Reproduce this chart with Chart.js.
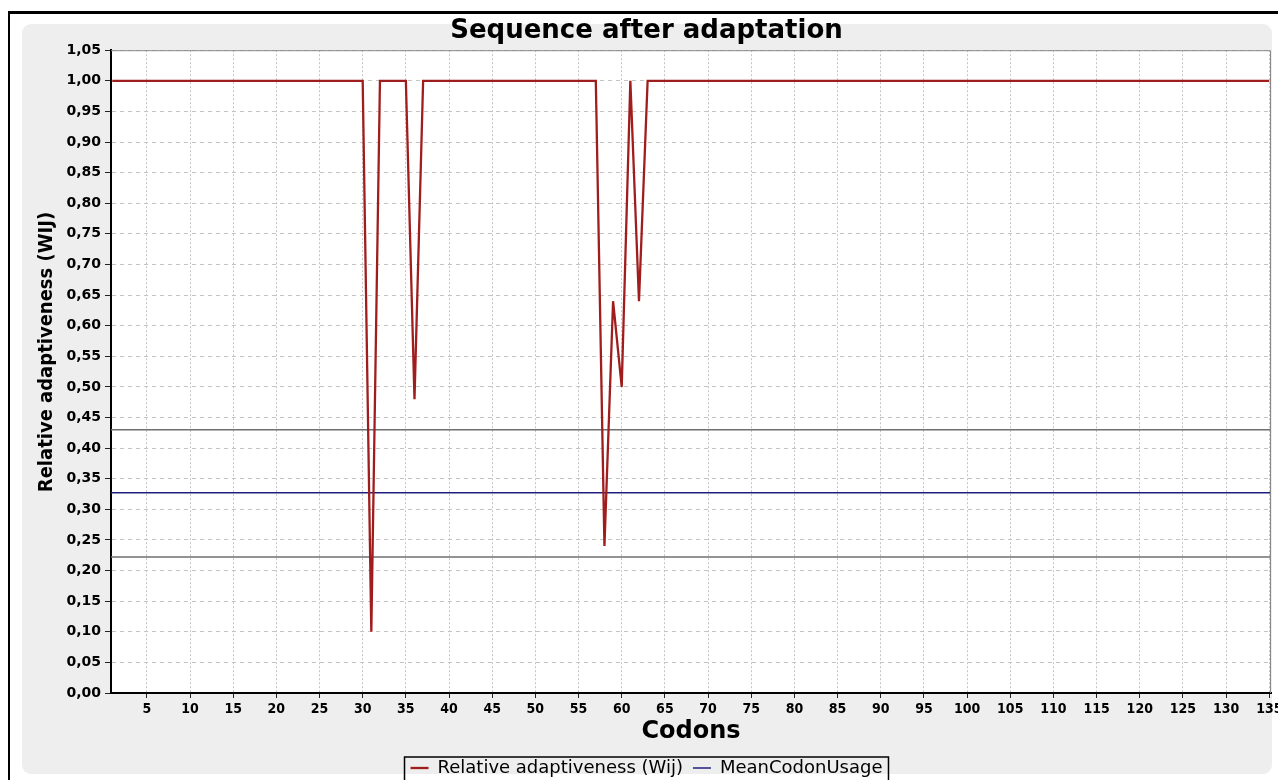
<!DOCTYPE html>
<html>
<head>
<meta charset="utf-8">
<title>Sequence after adaptation</title>
<script src="https://cdn.jsdelivr.net/npm/chart.js@4.4.1/dist/chart.umd.min.js"></script>
<style>
  html, body { margin: 0; padding: 0; background: #fff; }
</style>
</head>
<body>
<canvas id="codon-chart" width="1278" height="780"></canvas>
<script>
// codon positions 1..135 along the sequence
var codons = Array.from({length: 135}, function (_, i) { return i + 1; });

// relative adaptiveness (Wij) per codon
var wij = [
	1.00, 1.00, 1.00, 1.00, 1.00, 1.00, 1.00, 1.00, 1.00, 1.00, 1.00, 1.00, 1.00, 1.00, 1.00,
	1.00, 1.00, 1.00, 1.00, 1.00, 1.00, 1.00, 1.00, 1.00, 1.00, 1.00, 1.00, 1.00, 1.00, 1.00,
	0.10, 1.00, 1.00, 1.00, 1.00, 0.48, 1.00, 1.00, 1.00, 1.00, 1.00, 1.00, 1.00, 1.00, 1.00,
	1.00, 1.00, 1.00, 1.00, 1.00, 1.00, 1.00, 1.00, 1.00, 1.00, 1.00, 1.00, 0.24, 0.64, 0.50,
	1.00, 0.64, 1.00, 1.00, 1.00, 1.00, 1.00, 1.00, 1.00, 1.00, 1.00, 1.00, 1.00, 1.00, 1.00,
	1.00, 1.00, 1.00, 1.00, 1.00, 1.00, 1.00, 1.00, 1.00, 1.00, 1.00, 1.00, 1.00, 1.00, 1.00,
	1.00, 1.00, 1.00, 1.00, 1.00, 1.00, 1.00, 1.00, 1.00, 1.00, 1.00, 1.00, 1.00, 1.00, 1.00,
	1.00, 1.00, 1.00, 1.00, 1.00, 1.00, 1.00, 1.00, 1.00, 1.00, 1.00, 1.00, 1.00, 1.00, 1.00,
	1.00, 1.00, 1.00, 1.00, 1.00, 1.00, 1.00, 1.00, 1.00, 1.00, 1.00, 1.00, 1.00, 1.00, 1.00
];

// horizontal reference levels
var meanCodonUsage = 0.327;
var upperLevel = 0.430;
var lowerLevel = 0.222;

var xTicks = [5, 10, 15, 20, 25, 30, 35, 40, 45, 50, 55, 60, 65, 70, 75, 80, 85, 90, 95, 100, 105, 110, 115, 120, 125, 130, 135];
var yTicks = [0, 0.05, 0.10, 0.15, 0.20, 0.25, 0.30, 0.35, 0.40, 0.45, 0.50, 0.55, 0.60, 0.65, 0.70, 0.75, 0.80, 0.85, 0.90, 0.95, 1.00, 1.05];

var yTitle = 'Relative adaptiveness (WIJ)';

var xMin = 0.85, xMax = 135.2;

function flatLine(level) {
	return [{x: xMin, y: level}, {x: xMax, y: level}];
}

var panelPlugin = {
	id: 'panel',
	beforeDraw: function (chart) {
		var c = chart.ctx, a = chart.chartArea;
		c.save();
		c.fillStyle = '#ffffff';
		c.fillRect(0, 0, chart.width, chart.height);
		// dark window frame
		c.fillStyle = '#000000';
		c.fillRect(8, 11, chart.width - 8, 3);
		c.fillRect(8, 11, 2, chart.height - 11);
		// grey chart panel
		c.fillStyle = '#eeeeee';
		c.beginPath();
		c.roundRect(22, 24, 1250, 750, 9);
		c.fill();
		c.fillStyle = '#ffffff';
		c.fillRect(a.left, a.top, a.right - a.left, a.bottom - a.top);
		c.restore();
	},
	afterDraw: function (chart) {
		var c = chart.ctx, a = chart.chartArea;
		c.save();
		c.strokeStyle = '#888888';
		c.lineWidth = 1;
		c.beginPath();
		c.moveTo(a.left, a.top + 0.5);
		c.lineTo(a.right - 0.5, a.top + 0.5);
		c.lineTo(a.right - 0.5, a.bottom);
		c.stroke();
		// y axis title, sits a little above the middle of the axis
		c.translate(47, 352);
		c.rotate(-Math.PI / 2);
		c.fillStyle = '#000';
		c.font = 'bold 20px "DejaVu Sans Condensed", "DejaVu Sans", sans-serif';
		c.textAlign = 'center';
		c.textBaseline = 'middle';
		c.fillText(yTitle, 0, 0);
		c.setTransform(1, 0, 0, 1, 0, 0);
		// box round the legend
		var boxes = chart.legend.legendHitBoxes;
		if (boxes.length) {
			var first = boxes[0], last = boxes[boxes.length - 1];
			var x1 = first.left - 6, x2 = last.left + last.width + 6;
			var y1 = first.top - 2;
			c.strokeStyle = '#000000';
			c.lineWidth = 1.5;
			c.strokeRect(x1, y1, x2 - x1, chart.height - y1 + 5);
		}
		c.restore();
	}
};

var ctx = document.getElementById('codon-chart').getContext('2d');
var codonChart = new Chart(ctx, {
	type: 'line',
	data: {
		datasets: [{
			label: 'Relative adaptiveness (Wij)',
			data: codons.map(function (c, i) { return {x: c, y: wij[i]}; }),
			borderColor: '#a01d1d',
			borderWidth: 2.3,
			pointRadius: 0,
			tension: 0
		}, {
			label: 'MeanCodonUsage',
			data: flatLine(meanCodonUsage),
			borderColor: '#1f1f80',
			borderWidth: 1.5,
			pointRadius: 0
		}, {
			label: 'upper',
			data: flatLine(upperLevel),
			borderColor: '#6f6f6f',
			borderWidth: 1.5,
			pointRadius: 0
		}, {
			label: 'lower',
			data: flatLine(lowerLevel),
			borderColor: '#6f6f6f',
			borderWidth: 1.5,
			pointRadius: 0
		}]
	},
	options: {
		responsive: false,
		animation: false,
		devicePixelRatio: 1,
		layout: {padding: {left: 22, right: 7, top: 0, bottom: -7}},
		plugins: {
			title: {
				display: true,
				text: 'Sequence after adaptation',
				color: '#000',
				font: {family: 'DejaVu Sans', size: 26, weight: 'bold'},
				padding: {top: 16, bottom: 3}
			},
			legend: {
				position: 'bottom',
				labels: {
					usePointStyle: true,
					pointStyle: 'line',
					pointStyleWidth: 18,
					color: '#000',
					padding: 10,
					font: {family: 'DejaVu Sans', size: 18},
					filter: function (item) { return item.datasetIndex < 2; }
				}
			},
			tooltip: {enabled: false}
		},
		scales: {
			x: {
				type: 'linear',
				min: xMin,
				max: xMax,
				afterBuildTicks: function (scale) {
					scale.ticks = xTicks.map(function (v) { return {value: v}; });
				},
				afterFit: function (scale) {
					scale.height = 56;
					scale.paddingLeft = 0;
					scale.paddingRight = 0;
				},
				grid: {color: '#c4c4c4', tickColor: '#222', tickLength: 5},
				border: {display: true, color: '#000', width: 2, dash: [2, 2]},
				ticks: {
					color: '#000',
					padding: 3,
					maxRotation: 0,
					autoSkip: false,
					font: {family: '"DejaVu Sans Condensed", "DejaVu Sans"', size: 14, weight: 'bold'}
				},
				title: {
					display: true,
					text: 'Codons',
					color: '#000',
					font: {family: 'DejaVu Sans', size: 24, weight: 'bold'},
					padding: {top: 0, bottom: 3}
				}
			},
			y: {
				min: 0,
				max: 1.05,
				afterBuildTicks: function (scale) {
					scale.ticks = yTicks.map(function (v) { return {value: v}; });
				},
				afterFit: function (scale) {
					scale.width = 89;
					scale.paddingTop = 0;
					scale.paddingBottom = 0;
				},
				grid: {color: '#c4c4c4', tickColor: '#222', tickLength: 6},
				border: {display: true, color: '#000', width: 2, dash: [4, 4]},
				ticks: {
					color: '#000',
					padding: 4,
					font: {family: 'DejaVu Sans', size: 14, weight: 'bold'},
					callback: function (v) { return v.toFixed(2).replace('.', ','); }
				},
				title: {display: false}
			}
		}
	},
	plugins: [panelPlugin]
});
</script>
</body>
</html>
